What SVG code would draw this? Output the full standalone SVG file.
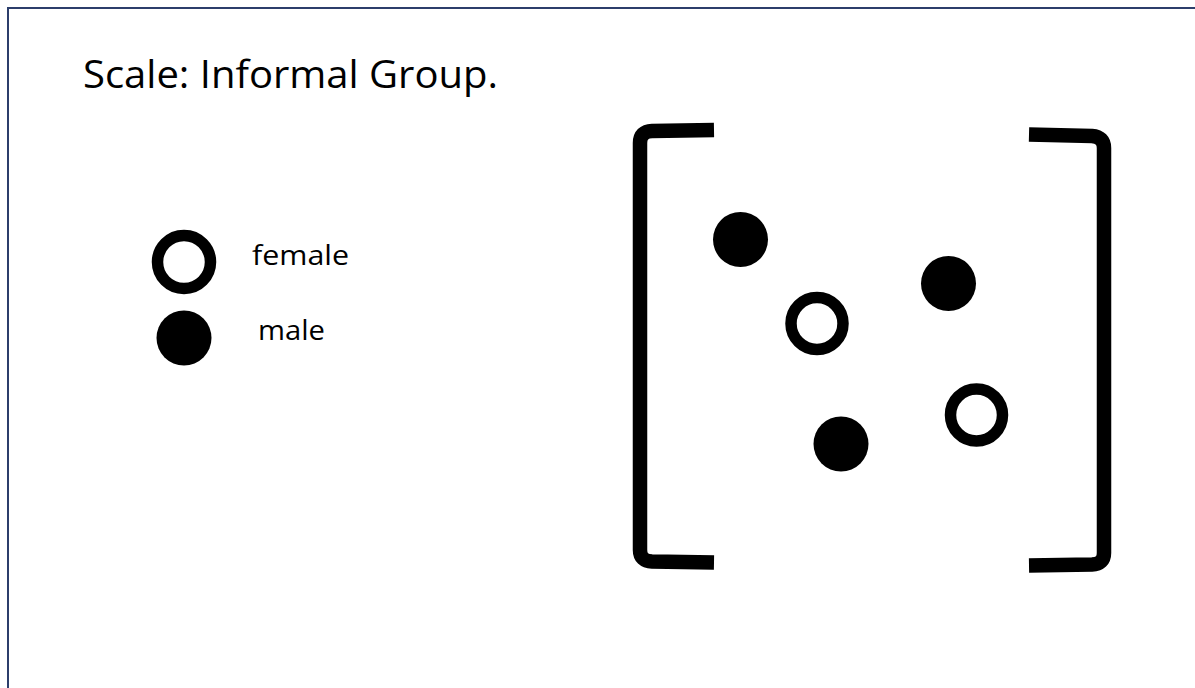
<svg xmlns="http://www.w3.org/2000/svg" width="1195" height="688" viewBox="0 0 1195 688">
  <style>
    .lbl { font-family: "Open Sans", "Liberation Sans", Arial, sans-serif; fill: #000; }
    .male { fill: #000; }
    .female { fill: #fff; stroke: #000; stroke-width: 11.5; }
    .bracket { fill: none; stroke: #000; stroke-width: 14.5; stroke-linejoin: round; }
  </style>
  <rect width="1195" height="688" fill="#fff"/>
  <path d="M 8 688 V 8 H 1195" fill="none" stroke="#2C3E6B" stroke-width="2"/>
  <text id="title" class="lbl" x="83" y="88" font-size="39" textLength="415" lengthAdjust="spacingAndGlyphs">Scale: Informal Group.</text>
  <g id="legend">
    <g id="legend-female">
      <circle class="female" cx="184" cy="262" r="26.5"/>
      <text class="lbl" x="252" y="265" font-size="28" textLength="97" lengthAdjust="spacingAndGlyphs">female</text>
    </g>
    <g id="legend-male">
      <circle class="male" cx="184" cy="338" r="27.5"/>
      <text class="lbl" x="258" y="340" font-size="28" textLength="67" lengthAdjust="spacingAndGlyphs">male</text>
    </g>
  </g>
  <g id="brackets">
    <path id="left-bracket" class="bracket" d="M 714 130 L 652 131 Q 640 131.5 640 143 L 640 550 Q 640 561 652 561.5 L 714 562.5"/>
    <path id="right-bracket" class="bracket" d="M 1029 134.5 L 1092 136 Q 1104 137 1104 148 L 1104 553 Q 1104 564 1092 564.5 L 1029 565.5"/>
  </g>
  <g id="members">
    <circle id="m1" class="male" cx="740.5" cy="239.5" r="27.5"/>
    <circle id="m2" class="male" cx="948.5" cy="283.5" r="27.5"/>
    <circle id="m3" class="male" cx="841" cy="444" r="27.5"/>
    <circle id="f1" class="female" cx="817" cy="323.5" r="26"/>
    <circle id="f2" class="female" cx="976.5" cy="415" r="26"/>
  </g>
</svg>
